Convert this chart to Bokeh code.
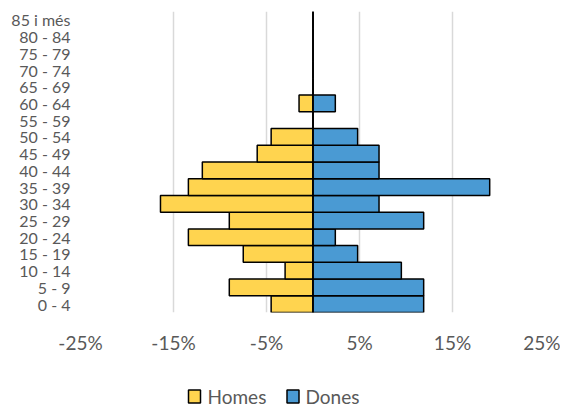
from bokeh.plotting import figure
from bokeh.layouts import column
from bokeh.models import Range1d, FixedTicker, Span
from bokeh.core.properties import value
from bokeh.embed import file_html
from bokeh.resources import INLINE

ages = ["0 - 4", "5 - 9", "10 - 14", "15 - 19", "20 - 24", "25 - 29", "30 - 34",
        "35 - 39", "40 - 44", "45 - 49", "50 - 54", "55 - 59", "60 - 64",
        "65 - 69", "70 - 74", "75 - 79", "80 - 84", "85 i més"]
homes = [-4.5, -9.0, -3.0, -7.5, -13.4, -9.0, -16.4, -13.4, -11.9, -6.0, -4.5,
         0, -1.5, 0, 0, 0, 0, 0]
dones = [11.9, 11.9, 9.5, 4.8, 2.4, 11.9, 7.1, 19.0, 7.1, 7.1, 4.8,
         0, 2.4, 0, 0, 0, 0, 0]
x_ticks = [-25, -15, -5, 5, 15, 25]
x_tick_labels = {t: f"{t}%" for t in x_ticks}
series_names = ["Homes", "Dones"]

FONT = "Lato"
TXT = "#595959"
YELLOW = "#FFD44F"
BLUE = "#4A9AD3"

p = figure(width=560, height=380, y_range=ages, x_range=Range1d(-25, 25),
           output_backend="svg", toolbar_location=None,
           min_border_left=80, min_border_right=15, min_border_top=11,
           min_border_bottom=68)
p.outline_line_color = None

p.hbar(y=ages, left=homes, right=0, height=1.0, fill_color=YELLOW,
       line_color="black", line_width=1.5)
p.hbar(y=ages, left=0, right=dones, height=1.0, fill_color=BLUE,
       line_color="black", line_width=1.5)

p.add_layout(Span(location=0, dimension="height", line_color="black", line_width=1.5))

p.xaxis.ticker = FixedTicker(ticks=x_ticks)
p.xaxis.major_label_overrides = x_tick_labels
p.xaxis.axis_line_color = None
p.xaxis.major_tick_line_color = None
p.xaxis.minor_tick_line_color = None
p.xaxis.major_label_text_font = FONT
p.xaxis.major_label_text_font_size = "19px"
p.xaxis.major_label_text_color = TXT
p.xaxis.major_label_standoff = 12

p.yaxis.axis_line_color = None
p.yaxis.major_tick_line_color = None
p.yaxis.minor_tick_line_color = None
p.yaxis.major_label_text_font = FONT
p.yaxis.major_label_text_font_size = "16px"
p.yaxis.major_label_text_color = TXT
p.yaxis.major_label_standoff = 4

p.xgrid.grid_line_color = "#D9D9D9"
p.xgrid.grid_line_width = 1.5
p.ygrid.grid_line_color = None

# legend strip below the chart; its frame is aligned with the chart's frame,
# so its x range is given in page pixels across that frame
lg = figure(width=560, height=28, output_backend="svg", toolbar_location=None,
            x_axis_type=None, y_axis_type=None, min_border=0,
            x_range=Range1d(80, 545), y_range=Range1d(0, 28))
lg.outline_line_color = None
lg.grid.grid_line_color = None
key_x = [194, 292.5]
label_x = [207, 305]
lg.rect(x=key_x, y=[12, 12], width=12, height=13, width_units="screen",
        height_units="screen", fill_color=[YELLOW, BLUE], line_color="black",
        line_width=1.5)
lg.text(x=label_x, y=[12, 12], text=series_names, text_font=value(FONT),
        text_font_size="19px", text_color=TXT, text_baseline="middle",
        text_align="left")

open("out.html", "w").write(file_html(column(p, lg, spacing=0), INLINE))
